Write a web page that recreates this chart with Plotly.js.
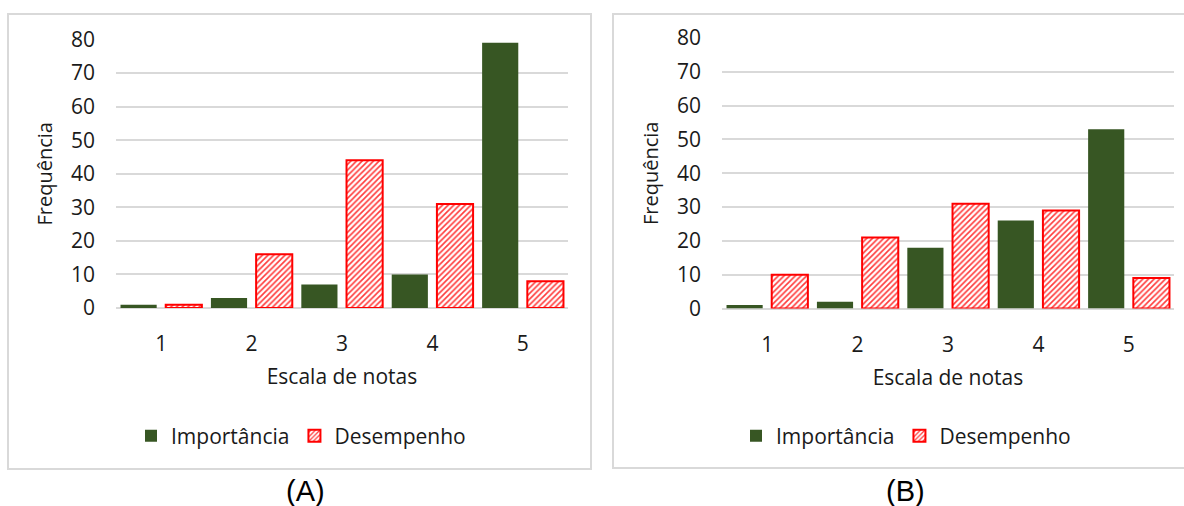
<!DOCTYPE html>
<html>
<head>
<meta charset="utf-8">
<script src="https://cdn.plot.ly/plotly-3.0.1.min.js"></script>
<style>
  html, body { margin: 0; padding: 0; background: #ffffff; }
  #chart { width: 1184px; height: 506px; }
</style>
</head>
<body>
<div id="chart"></div>
<script>
// Scale categories (grades 1 to 5)
const notas = ['1', '2', '3', '4', '5'];

// Panel (A): frequency of each grade
const importanciaA = [1, 3, 7, 10, 79];
const desempenhoA = [1, 16, 44, 31, 8];

// Panel (B): frequency of each grade
const importanciaB = [1, 2, 18, 26, 53];
const desempenhoB = [10, 21, 31, 29, 9];

const yTicks = [0, 10, 20, 30, 40, 50, 60, 70, 80];

const W = 1184, H = 506;
const px = v => v / W;
const py = v => 1 - v / H;

const GREEN = '#375623';
const RED = '#ff0000';
const GRID = '#d9d9d9';
const TXT = '#1a1a1a';
const FONT = 'Open Sans, sans-serif';

function importanciaTrace(y, xa, ya, leg) {
  return {
    type: 'bar', name: 'Importância', x: notas, y: y,
    xaxis: xa, yaxis: ya, legend: leg,
    marker: { color: GREEN, line: { width: 0 } },
    hoverinfo: 'x+y+name'
  };
}
function desempenhoTrace(y, xa, ya, leg) {
  return {
    type: 'bar', name: 'Desempenho', x: notas, y: y,
    xaxis: xa, yaxis: ya, legend: leg,
    marker: {
      color: '#ffffff',
      line: { color: RED, width: 2 },
      pattern: { shape: '/', fgcolor: '#ff3b3b', bgcolor: '#ffffff', size: 4, solidity: 0.4 }
    },
    hoverinfo: 'x+y+name'
  };
}

const data = [
  importanciaTrace(importanciaA, 'x', 'y', 'legend'),
  desempenhoTrace(desempenhoA, 'x', 'y', 'legend'),
  importanciaTrace(importanciaB, 'x2', 'y2', 'legend2'),
  desempenhoTrace(desempenhoB, 'x2', 'y2', 'legend2')
];

function xAxis(domain, anchor) {
  return {
    domain: domain, anchor: anchor, type: 'category',
    showgrid: false, showline: false, ticks: '', zeroline: false,
    ticklabelstandoff: 21,
    tickfont: { family: FONT, size: 21, color: TXT },
    title: { text: 'Escala de notas', font: { family: FONT, size: 21, color: TXT }, standoff: 13 },
    fixedrange: true
  };
}
function yAxis(domain, anchor) {
  return {
    domain: domain, anchor: anchor, range: [0, 80],
    tickvals: yTicks, ticktext: yTicks.map(String),
    showgrid: true, gridcolor: GRID, gridwidth: 2,
    zeroline: true, zerolinecolor: GRID, zerolinewidth: 2,
    showline: false, ticks: '', ticklabelstandoff: 20,
    tickfont: { family: FONT, size: 21, color: TXT },
    title: { text: 'Frequência', font: { family: FONT, size: 20, color: TXT }, standoff: 12 },
    fixedrange: true
  };
}

function legendAt(xLeft) {
  return {
    orientation: 'h', x: px(xLeft), xanchor: 'left', y: py(436), yanchor: 'middle',
    font: { family: FONT, size: 21, color: TXT },
    bgcolor: 'rgba(0,0,0,0)', itemclick: false, itemdoubleclick: false,
    traceorder: 'normal'
  };
}

const layout = {
  width: W, height: H,
  margin: { l: 0, r: 0, t: 0, b: 0, autoexpand: false },
  paper_bgcolor: '#ffffff', plot_bgcolor: 'rgba(0,0,0,0)',
  barmode: 'group', bargap: 0, bargroupgap: 0.2,
  showlegend: true,
  xaxis: xAxis([px(116), px(568)], 'y'),
  yaxis: yAxis([py(308), py(39.5)], 'x'),
  xaxis2: xAxis([px(722), px(1174)], 'y2'),
  yaxis2: yAxis([py(308.5), py(38)], 'x2'),
  legend: legendAt(131),
  legend2: legendAt(736),
  shapes: [
    { type: 'rect', xref: 'paper', yref: 'paper', x0: px(8), x1: px(591), y0: py(469), y1: py(14),
      line: { color: GRID, width: 2 }, fillcolor: 'rgba(0,0,0,0)', layer: 'below' },
    { type: 'rect', xref: 'paper', yref: 'paper', x0: px(613), x1: px(1195), y0: py(468), y1: py(14),
      line: { color: GRID, width: 2 }, fillcolor: 'rgba(0,0,0,0)', layer: 'below' }
  ],
  annotations: [
    { text: '(A)', xref: 'paper', yref: 'paper', x: px(305), y: py(491), xanchor: 'center', yanchor: 'middle',
      showarrow: false, font: { family: 'Liberation Sans, Arial, sans-serif', size: 29, color: '#000000' } },
    { text: '(B)', xref: 'paper', yref: 'paper', x: px(905), y: py(491), xanchor: 'center', yanchor: 'middle',
      showarrow: false, font: { family: 'Liberation Sans, Arial, sans-serif', size: 29, color: '#000000' } }
  ]
};

Plotly.newPlot('chart', data, layout, { displayModeBar: false, responsive: false });
</script>
</body>
</html>
